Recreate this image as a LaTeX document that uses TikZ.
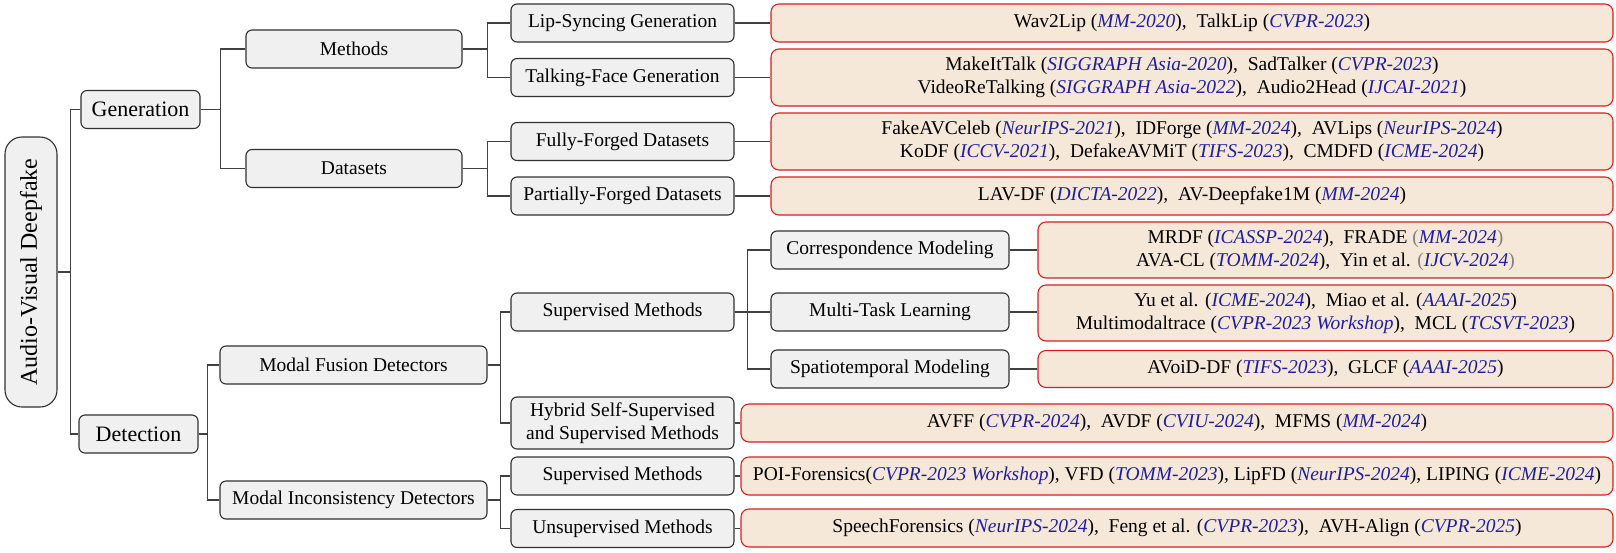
\documentclass[tikz,border=0pt]{standalone}
\usepackage{fontspec}
\setmainfont{Liberation Serif}
\definecolor{boxgray}{HTML}{F0F0F0}
\definecolor{boxline}{HTML}{303030}
\definecolor{leafbg}{HTML}{F6E8D8}
\definecolor{leafred}{HTML}{D81E1E}
\definecolor{venueblue}{HTML}{1E1E9E}
\definecolor{linegray}{HTML}{404040}
\definecolor{parengray}{HTML}{808080}
\newcommand{\venue}[1]{\textcolor{venueblue}{\itshape #1}}
\newcommand{\csep}{,\hspace{0.5em}}
\tikzset{
  cat/.style={draw=boxline, fill=boxgray, rounded corners=6pt, line width=1.1pt,
    inner sep=0pt, align=center, font=\fontsize{19.5}{23.5}\selectfont},
  leaf/.style={draw=leafred, fill=leafbg, rounded corners=8pt, line width=1.1pt,
    inner sep=0pt, align=center, font=\fontsize{19.5}{23}\selectfont},
  link/.style={draw=linegray, line width=1.4pt},
}
\begin{document}
\begin{tikzpicture}[x=1pt,y=-1pt]
\useasboundingbox (0,0) rectangle (1616,552);

% root
\node[cat, rounded corners=17pt, rotate=90, minimum width=270pt, minimum height=52pt,
  font=\fontsize{24}{28}\selectfont] (root) at (31,272) {Audio-Visual Deepfake};

% level 1
\node[cat, minimum width=119pt, minimum height=38pt, font=\fontsize{22}{26}\selectfont] (gen) at (140.5,109.5) {Generation};
\node[cat, minimum width=119pt, minimum height=38pt, font=\fontsize{22}{26}\selectfont] (det) at (138.5,434) {Detection};

% level 2
\node[cat, minimum width=216pt, minimum height=38pt] (meth) at (354,49) {Methods};
\node[cat, minimum width=216pt, minimum height=38pt] (data) at (354,168.5) {Datasets};
\node[cat, minimum width=267pt, minimum height=38pt] (mfd) at (353.5,365) {Modal Fusion Detectors};
\node[cat, minimum width=267pt, minimum height=38pt] (mid) at (353.5,500) {Modal Inconsistency Detectors};

% level 3
\node[cat, minimum width=223pt, minimum height=38pt] (lip) at (622.5,23) {Lip-Syncing Generation};
\node[cat, minimum width=223pt, minimum height=38pt] (tfg) at (622.5,77.5) {Talking-Face Generation};
\node[cat, minimum width=223pt, minimum height=38pt] (ffd) at (622.5,141.5) {Fully-Forged Datasets};
\node[cat, minimum width=223pt, minimum height=38pt] (pfd) at (622.5,196) {Partially-Forged Datasets};
\node[cat, minimum width=223pt, minimum height=38pt] (supf) at (622.5,312) {Supervised Methods};
\node[cat, minimum width=223pt, minimum height=52pt] (hyb) at (622.5,423) {Hybrid Self-Supervised\\and Supervised Methods};
\node[cat, minimum width=223pt, minimum height=38pt] (supi) at (622.5,476) {Supervised Methods};
\node[cat, minimum width=223pt, minimum height=38pt] (unsup) at (622.5,528.5) {Unsupervised Methods};

% level 4
\node[cat, minimum width=238pt, minimum height=38pt] (corr) at (890,250) {Correspondence Modeling};
\node[cat, minimum width=238pt, minimum height=38pt] (mtl) at (890,312) {Multi-Task Learning};
\node[cat, minimum width=238pt, minimum height=38pt] (spt) at (890,369) {Spatiotemporal Modeling};

% leaves
\node[leaf, minimum width=842pt, minimum height=38pt] (l1) at (1192,23)
  {Wav2Lip (\venue{MM-2020})\csep TalkLip (\venue{CVPR-2023})};
\node[leaf, minimum width=842pt, minimum height=57pt] (l2) at (1192,77.5)
  {MakeItTalk (\venue{SIGGRAPH Asia-2020})\csep SadTalker (\venue{CVPR-2023})\\
   VideoReTalking (\venue{SIGGRAPH Asia-2022})\csep Audio2Head (\venue{IJCAI-2021})};
\node[leaf, minimum width=842pt, minimum height=57pt] (l3) at (1192,141.5)
  {FakeAVCeleb (\venue{NeurIPS-2021})\csep IDForge (\venue{MM-2024})\csep AVLips (\venue{NeurIPS-2024})\\
   KoDF (\venue{ICCV-2021})\csep DefakeAVMiT (\venue{TIFS-2023})\csep CMDFD (\venue{ICME-2024})};
\node[leaf, minimum width=842pt, minimum height=38pt] (l4) at (1192,196)
  {LAV-DF (\venue{DICTA-2022})\csep AV-Deepfake1M (\venue{MM-2024})};
\node[leaf, minimum width=575pt, minimum height=56pt] (lcorr) at (1325.5,250)
  {MRDF (\venue{ICASSP-2024})\csep FRADE \textcolor{parengray}{(}\venue{MM-2024}\textcolor{parengray}{)}\\
   AVA-CL (\venue{TOMM-2024})\csep Yin et al. \textcolor{parengray}{(}\venue{IJCV-2024}\textcolor{parengray}{)}};
\node[leaf, minimum width=575pt, minimum height=56pt] (lmtl) at (1325.5,313)
  {Yu et al. (\venue{ICME-2024})\csep Miao et al. (\venue{AAAI-2025})\\
   Multimodaltrace (\venue{CVPR-2023 Workshop})\csep MCL (\venue{TCSVT-2023})};
\node[leaf, minimum width=575pt, minimum height=37pt] (lspt) at (1325.5,369)
  {AVoiD-DF (\venue{TIFS-2023})\csep GLCF (\venue{AAAI-2025})};
\node[leaf, minimum width=872pt, minimum height=38pt] (lhyb) at (1177,423)
  {AVFF (\venue{CVPR-2024})\csep AVDF (\venue{CVIU-2024})\csep MFMS (\venue{MM-2024})};
\node[leaf, minimum width=872pt, minimum height=38pt] (lsupi) at (1177,476)
  {POI-Forensics(\venue{CVPR-2023 Workshop}), VFD (\venue{TOMM-2023}), LipFD (\venue{NeurIPS-2024}), LIPING (\venue{ICME-2024})};
\node[leaf, minimum width=872pt, minimum height=38pt] (lunsup) at (1177,528)
  {SpeechForensics (\venue{NeurIPS-2024})\csep Feng et al. (\venue{CVPR-2023})\csep AVH-Align (\venue{CVPR-2025})};

% connectors
\draw[link] (root.south) -- ++(13,0) |- (gen.west);
\draw[link] (root.south) -- ++(13,0) |- (det.west);
\draw[link] (gen.east) -- ++(20,0) |- (meth.west);
\draw[link] (gen.east) -- ++(20,0) |- (data.west);
\draw[link] (det.east) -- ++(9,0) |- (mfd.west);
\draw[link] (det.east) -- ++(9,0) |- (mid.west);
\draw[link] (meth.east) -- ++(25,0) |- (lip.west);
\draw[link] (meth.east) -- ++(25,0) |- (tfg.west);
\draw[link] (data.east) -- ++(25,0) |- (ffd.west);
\draw[link] (data.east) -- ++(25,0) |- (pfd.west);
\draw[link] (mfd.east) -- ++(13,0) |- (supf.west);
\draw[link] (mfd.east) -- ++(13,0) |- (hyb.west);
\draw[link] (mid.east) -- ++(13,0) |- (supi.west);
\draw[link] (mid.east) -- ++(13,0) |- (unsup.west);
\draw[link] (supf.east) -- ++(13,0) |- (corr.west);
\draw[link] (supf.east) -- ++(13,0) |- (mtl.west);
\draw[link] (supf.east) -- ++(13,0) |- (spt.west);
\draw[link] (lip.east) -- (lip.east -| l1.west);
\draw[link] (tfg.east) -- (tfg.east -| l2.west);
\draw[link] (ffd.east) -- (ffd.east -| l3.west);
\draw[link] (pfd.east) -- (pfd.east -| l4.west);
\draw[link] (corr.east) -- (corr.east -| lcorr.west);
\draw[link] (mtl.east) -- (mtl.east -| lmtl.west);
\draw[link] (spt.east) -- (spt.east -| lspt.west);
\draw[link] (hyb.east) -- (hyb.east -| lhyb.west);
\draw[link] (supi.east) -- (supi.east -| lsupi.west);
\draw[link] (unsup.east) -- (unsup.east -| lunsup.west);
\end{tikzpicture}
\end{document}
